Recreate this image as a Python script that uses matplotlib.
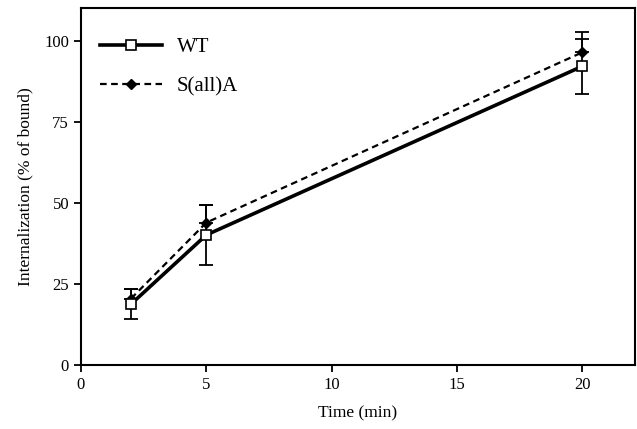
import numpy as np
import matplotlib
matplotlib.use("Agg")
import matplotlib.pyplot as plt

plt.rcParams['font.family'] = ['Liberation Serif', 'DejaVu Serif']

time = [2, 5, 20]
wt = [18.8, 40.1, 92.1]
wt_err = [4.5, 9.2, 8.5]
sa = [20.5, 43.9, 96.4]
sa_err = [2.8, 5.5, 6.2]

fig = plt.figure(figsize=(6.37, 4.29), dpi=100)
ax = fig.add_axes([0.127, 0.149, 0.870, 0.832])

# error bars: WT drawn both ways, S(all)A upward only
ax.errorbar(time, wt, yerr=[wt_err, wt_err], fmt='none', ecolor='black',
            elinewidth=1.3, capsize=5, capthick=1.3, zorder=2)
ax.errorbar(time, sa, yerr=[np.zeros(3), sa_err], fmt='none', ecolor='black',
            elinewidth=1.3, capsize=5, capthick=1.3, zorder=2)

ax.plot(time, sa, color='black', linestyle=(0, (3, 2)), linewidth=1.6,
        marker='D', markersize=5, markerfacecolor='black', label='S(all)A', zorder=3)
ax.plot(time, wt, color='black', linestyle='-', linewidth=2.6,
        marker='s', markersize=6.5, markerfacecolor='white', markeredgewidth=1.2,
        label='WT', zorder=4)

ax.set_xlim(0, 22.1)
ax.set_ylim(0, 110)
ax.set_xticks([0, 5, 10, 15, 20])
ax.set_yticks([0, 25, 50, 75, 100])
ax.tick_params(direction='out', length=5, width=1.3, labelsize=12)
for s in ax.spines.values():
    s.set_linewidth(1.5)

ax.set_xlabel('Time (min)', fontsize=12.5, labelpad=9)
ax.set_ylabel('Internalization (% of bound)', fontsize=12.5, labelpad=8)

h, l = ax.get_legend_handles_labels()
ax.legend(h[::-1], l[::-1], loc='upper left', frameon=False, fontsize=15,
          handlelength=3.0, handletextpad=0.7, borderaxespad=0.5, labelspacing=0.95,
          bbox_to_anchor=(0.0, 0.97))

fig.savefig('out.png', dpi=100)
